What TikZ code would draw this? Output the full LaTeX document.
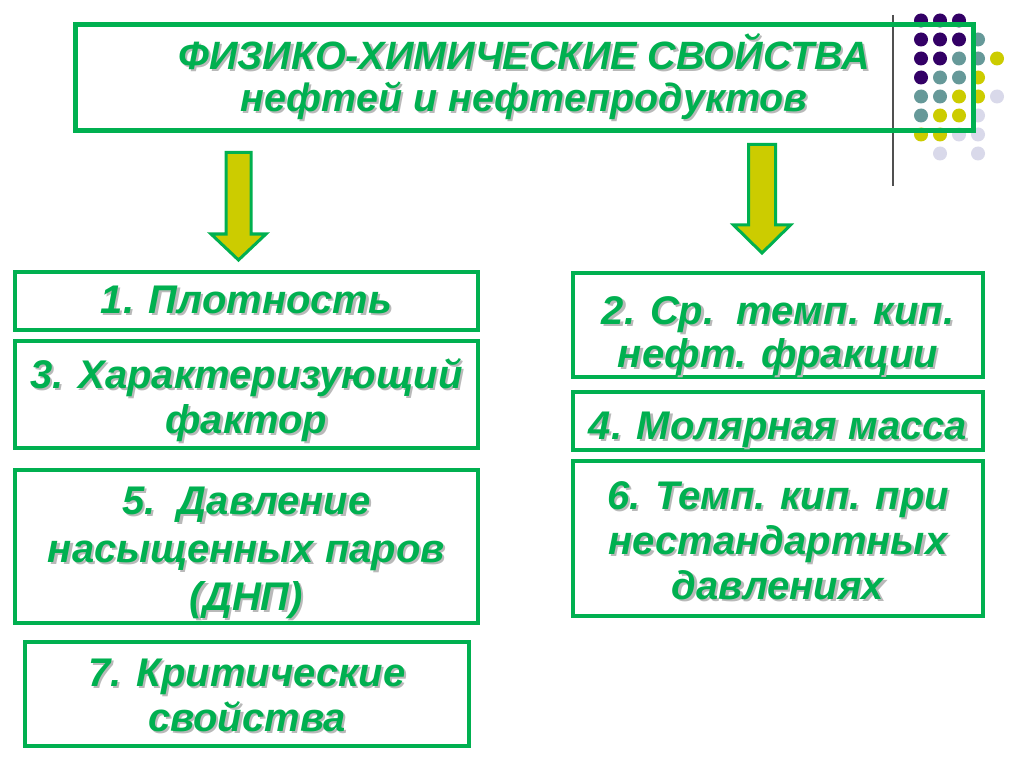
\documentclass[tikz,border=0pt]{standalone}
\usepackage{fontspec}
\setmainfont{Liberation Sans}
\usetikzlibrary{calc}
\definecolor{grn}{RGB}{0,176,80}
\definecolor{oliv}{RGB}{204,204,0}
\definecolor{dpurple}{RGB}{51,0,102}
\definecolor{dteal}{RGB}{102,153,153}
\definecolor{lav}{RGB}{217,217,234}
\definecolor{shd}{RGB}{185,185,185}
\definecolor{vline}{RGB}{80,80,80}
% text with a soft grey shadow
\newcommand\shl[1]{\leavevmode\rlap{\kern2.2pt\raisebox{-2.2pt}{\textcolor{shd}{#1}}}#1}
% every line gets a fixed height (32) and depth (9)
\newcommand\fixln[1]{\rule[-9pt]{0pt}{41pt}\smash{\shl{#1}}}
\tikzset{
  box/.style={draw=grn, line width=4.5pt, inner sep=0pt},
  txt/.style={align=center, text=grn, inner sep=0pt,
    font=\bfseries\itshape\fontsize{40}{45}\selectfont},
  titletxt/.style={txt, font=\bfseries\itshape\fontsize{39.5}{42}\selectfont},
  blockarrow/.style={draw=grn, fill=oliv, line width=3pt, line join=miter},
  dot/.style={circle, inner sep=0pt, minimum size=14pt}
}
\begin{document}
\begin{tikzpicture}[x=1pt,y=-1pt]
\useasboundingbox[fill=white] (0,0) rectangle (1024,767);
% decorative dots
\foreach \c/\r/\col in {0/0/dpurple,1/0/dpurple,2/0/dpurple,
  0/1/dpurple,1/1/dpurple,2/1/dpurple,3/1/dteal,
  0/2/dpurple,1/2/dpurple,2/2/dteal,3/2/dteal,4/2/oliv,
  0/3/dpurple,1/3/dteal,2/3/dteal,3/3/oliv,
  0/4/dteal,1/4/dteal,2/4/oliv,3/4/oliv,4/4/lav,
  0/5/dteal,1/5/oliv,2/5/oliv,3/5/lav,
  0/6/oliv,1/6/oliv,2/6/lav,3/6/lav,
  1/7/lav,3/7/lav}
  \node[dot, fill=\col] (d\c\r) at (921+19*\c, 20.5+19*\r) {};
\coordinate (vt) at (893,15);
\coordinate (vb) at (893,186);
\draw[vline, line width=1.5pt] (vt) -- (vb);
% title
\node[box, line width=5pt, minimum width=898pt, minimum height=106.5pt] (title) at (524,77.75) {};
\node[titletxt] (tt) at (524,77.5)
  {\shl{ФИЗИКО-ХИМИЧЕСКИЕ СВОЙСТВА}\\\shl{нефтей и нефтепродуктов}};
% arrows
\coordinate (la) at (238.5,152.5);
\draw[blockarrow] ($(la)+(-12.5,0)$) -- ($(la)+(12.5,0)$) -- ($(la)+(12.5,81.5)$) -- ($(la)+(27.5,81.5)$)
  -- ($(la)+(0,107.5)$) -- ($(la)+(-27.5,81.5)$) -- ($(la)+(-12.5,81.5)$) -- cycle;
\coordinate (ra) at (762,144.5);
\draw[blockarrow] ($(ra)+(-13.5,0)$) -- ($(ra)+(13.5,0)$) -- ($(ra)+(13.5,80.5)$) -- ($(ra)+(28.5,80.5)$)
  -- ($(ra)+(0,108.5)$) -- ($(ra)+(-28.5,80.5)$) -- ($(ra)+(-13.5,80.5)$) -- cycle;
% left boxes
\node[box, minimum width=463pt, minimum height=58pt] (b1) at (246.5,301) {};
\node[txt] (t1) at (246.5,301.5) {\fixln{1. Плотность}};
\node[box, minimum width=463pt, minimum height=107pt] (b3) at (246.5,394.5) {};
\node[txt] (t3) at (246.5,399) {\fixln{3. Характеризующий}\\\fixln{фактор}};
\node[box, minimum width=463pt, minimum height=153pt] (b5) at (246.5,546.5) {};
\node[txt, font=\bfseries\itshape\fontsize{40}{48}\selectfont] (t5) at (246.5,551)
  {\fixln{5.\ \ Давление}\\\fixln{насыщенных паров}\\\fixln{(ДНП)}};
\node[box, minimum width=444pt, minimum height=104pt] (b7) at (247,694) {};
\node[txt] (t7) at (247,697) {\fixln{7. Критические}\\\fixln{свойства}};
% right boxes
\node[box, minimum width=410pt, minimum height=104pt] (b2) at (778,325) {};
\node[txt, font=\bfseries\itshape\fontsize{40}{43}\selectfont] (t2) at (778,334.5) {\fixln{2. Ср.\ \ темп. кип.}\\\fixln{нефт. фракции}};
\node[box, minimum width=410pt, minimum height=58pt] (b4) at (778,421) {};
\node[txt] (t4) at (778,427.5) {\fixln{4. Молярная масса}};
\node[box, minimum width=410pt, minimum height=155pt] (b6) at (778,538.5) {};
\node[txt] (t6) at (778,542.5) {\fixln{6. Темп. кип. при}\\\fixln{нестандартных}\\\fixln{давлениях}};
\end{tikzpicture}
\end{document}
